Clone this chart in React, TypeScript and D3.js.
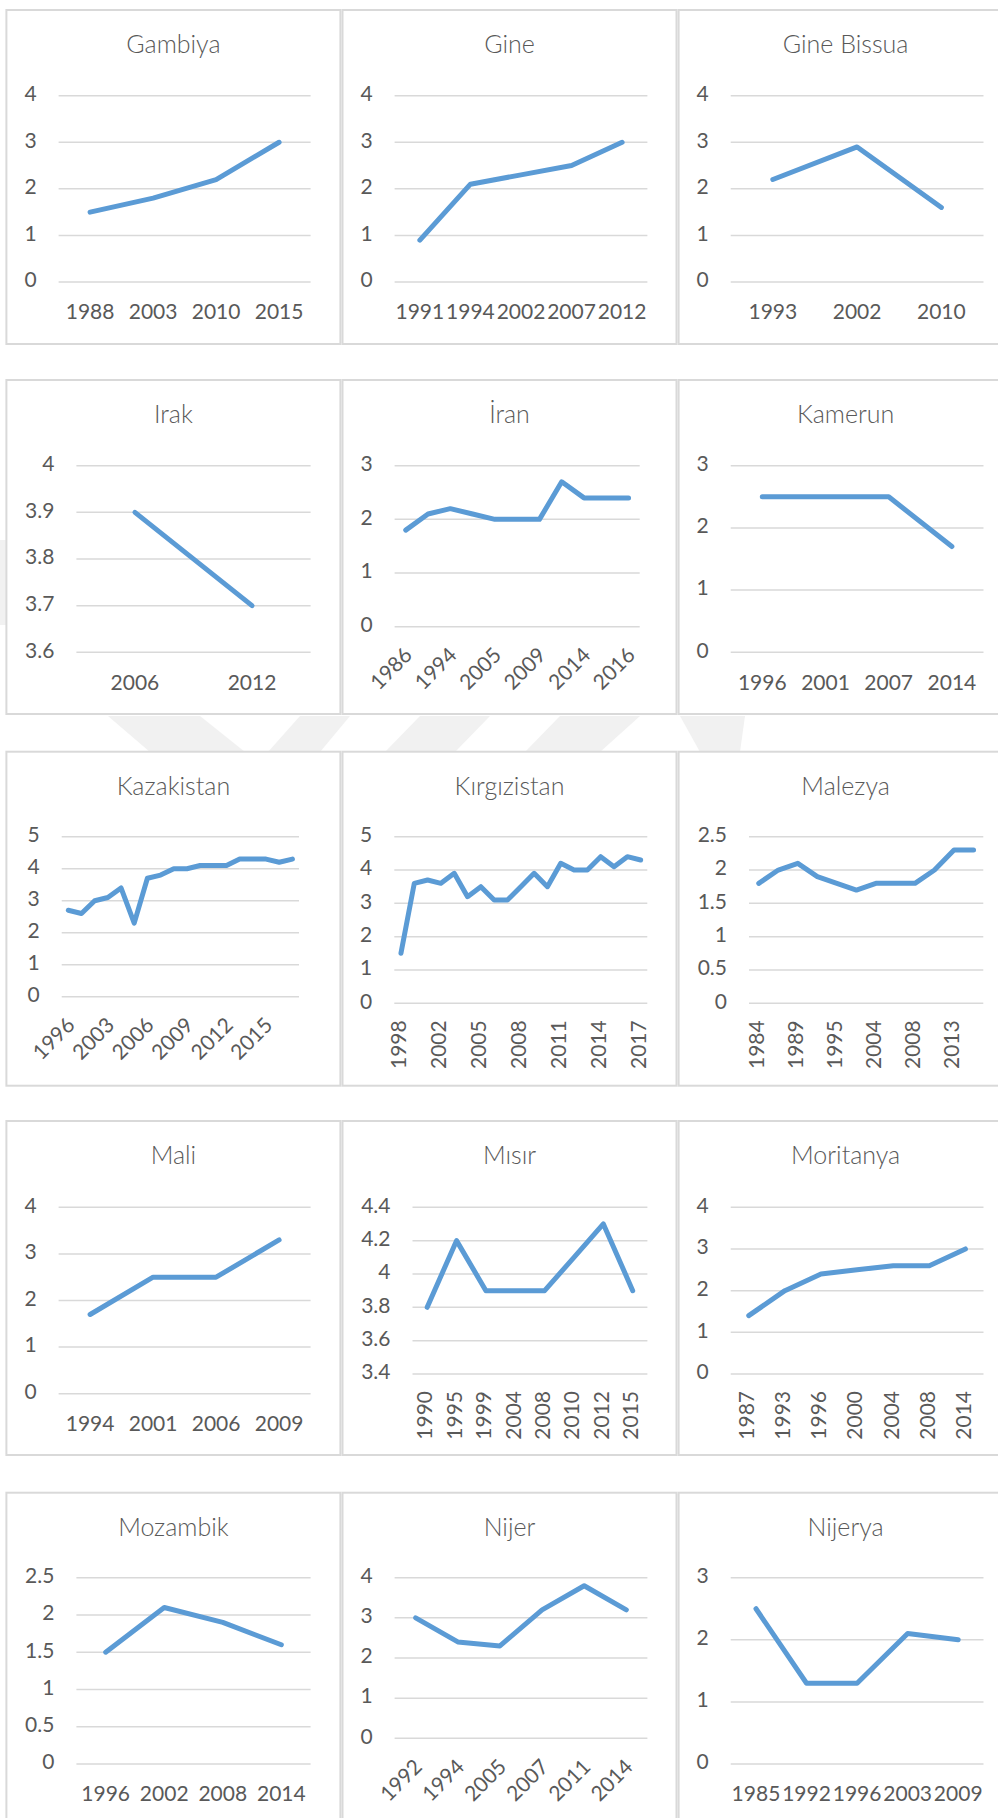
import React from 'react';
import * as d3 from 'd3';

// ---------- data ----------
const gambiyaYears = ['1988', '2003', '2010', '2015'];
const gambiyaValues = [1.5, 1.8, 2.2, 3.0];

const gineYears = ['1991', '1994', '2002', '2007', '2012'];
const gineValues = [0.9, 2.1, 2.3, 2.5, 3.0];

const gineBissuaYears = ['1993', '2002', '2010'];
const gineBissuaValues = [2.2, 2.9, 1.6];

const irakYears = ['2006', '2012'];
const irakValues = [3.9, 3.7];

const iranYears = ['1986', '1991', '1994', '2000', '2005', '2007', '2009', '2011', '2014', '2015', '2016'];
const iranValues = [1.8, 2.1, 2.2, 2.1, 2.0, 2.0, 2.0, 2.7, 2.4, 2.4, 2.4];

const kamerunYears = ['1996', '2001', '2007', '2014'];
const kamerunValues = [2.5, 2.5, 2.5, 1.7];

const kazakistanYears = ['1996', '1999', '2001', '2003', '2004', '2005', '2006', '2007', '2008', '2009', '2010', '2011', '2012', '2013', '2014', '2015', '2016', '2017'];
const kazakistanValues = [2.7, 2.6, 3.0, 3.1, 3.4, 2.3, 3.7, 3.8, 4.0, 4.0, 4.1, 4.1, 4.1, 4.3, 4.3, 4.3, 4.2, 4.3];

const kirgizistanYears = ['1998', '2000', '2001', '2002', '2003', '2004', '2005', '2006', '2007', '2008', '2009', '2010', '2011', '2012', '2013', '2014', '2015', '2016', '2017'];
const kirgizistanValues = [1.5, 3.6, 3.7, 3.6, 3.9, 3.2, 3.5, 3.1, 3.1, 3.5, 3.9, 3.5, 4.2, 4.0, 4.0, 4.4, 4.1, 4.4, 4.3];

const malezyaYears = ['1984', '1987', '1989', '1992', '1995', '1997', '2004', '2007', '2008', '2011', '2013', '2015'];
const malezyaValues = [1.8, 2.0, 2.1, 1.9, 1.8, 1.7, 1.8, 1.8, 1.8, 2.0, 2.3, 2.3];

const maliYears = ['1994', '2001', '2006', '2009'];
const maliValues = [1.7, 2.5, 2.5, 3.3];

const misirYears = ['1990', '1995', '1999', '2004', '2008', '2010', '2012', '2015'];
const misirValues = [3.8, 4.2, 3.9, 3.9, 3.9, 4.1, 4.3, 3.9];

const moritanyaYears = ['1987', '1993', '1996', '2000', '2004', '2008', '2014'];
const moritanyaValues = [1.4, 2.0, 2.4, 2.5, 2.6, 2.6, 3.0];

const mozambikYears = ['1996', '2002', '2008', '2014'];
const mozambikValues = [1.5, 2.1, 1.9, 1.6];

const nijerYears = ['1992', '1994', '2005', '2007', '2011', '2014'];
const nijerValues = [3.0, 2.4, 2.3, 3.2, 3.8, 3.2];

const nijeryaYears = ['1985', '1992', '1996', '2003', '2009'];
const nijeryaValues = [2.5, 1.3, 1.3, 2.1, 2.0];

// ---------- layout / styling ----------
const W = 998;
const H = 1818;
const colLeft = [6.4, 342.5, 678.6];
const rowTop = [10, 380, 751.7, 1121, 1492.7];
const PW = 334;
const PH = 334;
const TEXT = '#595959';
const GRID = '#D9D9D9';
const LINE = '#5B9BD5';
const FONT = 'Lato, "Open Sans", sans-serif';
const TICK_FS = 21;
const TITLE_FS = 25;

type Panel = {
  title: string;
  cats: string[];
  values: number[];
  yMin: number;
  yMax: number;
  yStep: number;
  every: number;
  rot: number;
  row: number;
  col: number;
  l: number; r: number; t: number; b: number;
};

const panels: Panel[] = [
  { title: 'Gambiya', cats: gambiyaYears, values: gambiyaValues, yMin: 0, yMax: 4, yStep: 1, every: 1, rot: 0, row: 0, col: 0, l: 52.2, r: 304.2, t: 85.7, b: 272 },
  { title: 'Gine', cats: gineYears, values: gineValues, yMin: 0, yMax: 4, yStep: 1, every: 1, rot: 0, row: 0, col: 1, l: 52.1, r: 304.9, t: 85.7, b: 272 },
  { title: 'Gine Bissua', cats: gineBissuaYears, values: gineBissuaValues, yMin: 0, yMax: 4, yStep: 1, every: 1, rot: 0, row: 0, col: 2, l: 52.1, r: 304.9, t: 85.7, b: 272 },
  { title: 'Irak', cats: irakYears, values: irakValues, yMin: 3.6, yMax: 4, yStep: 0.1, every: 1, rot: 0, row: 1, col: 0, l: 70, r: 304.2, t: 85.7, b: 272.3 },
  { title: 'İran', cats: iranYears, values: iranValues, yMin: 0, yMax: 3, yStep: 1, every: 2, rot: -45, row: 1, col: 1, l: 52.1, r: 297.2, t: 85.7, b: 246.7 },
  { title: 'Kamerun', cats: kamerunYears, values: kamerunValues, yMin: 0, yMax: 3, yStep: 1, every: 1, rot: 0, row: 1, col: 2, l: 52.1, r: 304.9, t: 85.7, b: 272.3 },
  { title: 'Kazakistan', cats: kazakistanYears, values: kazakistanValues, yMin: 0, yMax: 5, yStep: 1, every: 3, rot: -45, row: 2, col: 0, l: 55.3, r: 292.6, t: 85, b: 245 },
  { title: 'Kırgızistan', cats: kirgizistanYears, values: kirgizistanValues, yMin: 0, yMax: 5, yStep: 1, every: 3, rot: -90, row: 2, col: 1, l: 51.8, r: 304.8, t: 85, b: 251.6 },
  { title: 'Malezya', cats: malezyaYears, values: malezyaValues, yMin: 0, yMax: 2.5, yStep: 0.5, every: 2, rot: -90, row: 2, col: 2, l: 70.4, r: 304.7, t: 85, b: 251.6 },
  { title: 'Mali', cats: maliYears, values: maliValues, yMin: 0, yMax: 4, yStep: 1, every: 1, rot: 0, row: 3, col: 0, l: 52.2, r: 304.2, t: 86.3, b: 272.7 },
  { title: 'Mısır', cats: misirYears, values: misirValues, yMin: 3.4, yMax: 4.4, yStep: 0.2, every: 1, rot: -90, row: 3, col: 1, l: 70, r: 304.9, t: 86.3, b: 253 },
  { title: 'Moritanya', cats: moritanyaYears, values: moritanyaValues, yMin: 0, yMax: 4, yStep: 1, every: 1, rot: -90, row: 3, col: 2, l: 52.1, r: 304.9, t: 86.3, b: 253 },
  { title: 'Mozambik', cats: mozambikYears, values: mozambikValues, yMin: 0, yMax: 2.5, yStep: 0.5, every: 1, rot: 0, row: 4, col: 0, l: 70, r: 304.2, t: 85, b: 271.3 },
  { title: 'Nijer', cats: nijerYears, values: nijerValues, yMin: 0, yMax: 4, yStep: 1, every: 1, rot: -45, row: 4, col: 1, l: 52.1, r: 304.9, t: 85, b: 245.6 },
  { title: 'Nijerya', cats: nijeryaYears, values: nijeryaValues, yMin: 0, yMax: 3, yStep: 1, every: 1, rot: 0, row: 4, col: 2, l: 52.1, r: 304.9, t: 85, b: 271.3 },
];

const fmt = (v: number) => String(+v.toFixed(2));

function ChartPanel({ p }: { p: Panel }) {
  const px = colLeft[p.col];
  const py = rowTop[p.row];
  const x = d3.scalePoint<string>().domain(p.cats).range([p.l, p.r]).padding(0.5);
  const y = d3.scaleLinear().domain([p.yMin, p.yMax]).range([p.b, p.t]);
  const nT = Math.round((p.yMax - p.yMin) / p.yStep);
  const ticks = d3.range(nT + 1).map((i) => p.yMin + i * p.yStep);
  const line = d3
    .line<number>()
    .x((_, i) => x(p.cats[i]) as number)
    .y((d) => y(d));

  return (
    <g transform={`translate(${px},${py})`}>
      <rect x={0} y={0} width={PW} height={PH} fill="#fff" stroke={GRID} strokeWidth={2} />
      <text
        x={PW / 2}
        y={37}
        textAnchor="middle"
        dominantBaseline="middle"
        fontSize={TITLE_FS}
        fontWeight={300}
        fill={TEXT}
      >
        {p.title}
      </text>
      {ticks.map((t) => (
        <g key={t}>
          <line x1={p.l} x2={p.r} y1={y(t)} y2={y(t)} stroke={GRID} strokeWidth={1.5} />
          <text
            x={p.l - 22}
            y={y(t)}
            textAnchor="end"
            dominantBaseline="middle"
            fontSize={TICK_FS}
            fill={TEXT}
          >
            {fmt(t)}
          </text>
        </g>
      ))}
      <path
        d={line(p.values) || ''}
        fill="none"
        stroke={LINE}
        strokeWidth={5}
        strokeLinejoin="round"
        strokeLinecap="round"
      />
      {p.cats.map((c, i) => {
        if (i % p.every !== 0) return null;
        const cx = x(c) as number;
        if (p.rot === 0) {
          return (
            <text key={c} x={cx} y={p.b + 32} textAnchor="middle" dominantBaseline="middle" fontSize={TICK_FS} fill={TEXT}>
              {c}
            </text>
          );
        }
        if (p.rot === -45) {
          return (
            <text
              key={c}
              transform={`translate(${cx + 4},${p.b + 26}) rotate(-45)`}
              textAnchor="end"
              dominantBaseline="middle"
              fontSize={TICK_FS}
              fill={TEXT}
            >
              {c}
            </text>
          );
        }
        return (
          <text
            key={c}
            transform={`translate(${cx},${p.b + 17}) rotate(-90)`}
            textAnchor="end"
            dominantBaseline="middle"
            fontSize={TICK_FS}
            fill={TEXT}
          >
            {c}
          </text>
        );
      })}
    </g>
  );
}

const watermark: [number, number][][] = [
  [[0, 540], [6, 540], [6, 625], [0, 625]],
  [[108, 716], [200, 716], [245, 752], [150, 752]],
  [[300, 716], [350, 716], [320, 752], [268, 752]],
  [[420, 716], [490, 716], [455, 752], [385, 752]],
  [[560, 716], [640, 716], [600, 752], [525, 752]],
  [[680, 716], [745, 716], [740, 752], [700, 752]],
];

export default function App() {
  return (
    <svg
      width={W}
      height={H}
      viewBox={`0 0 ${W} ${H}`}
      style={{ position: 'absolute', left: 0, top: 0, background: '#fff', fontFamily: FONT }}
    >
      <rect x={0} y={0} width={W} height={H} fill="#fff" />
      {watermark.map((pts, i) => (
        <polygon key={i} points={pts.map((q) => q.join(',')).join(' ')} fill="#f1f1f1" />
      ))}
      {panels.map((p) => (
        <ChartPanel key={p.title} p={p} />
      ))}
    </svg>
  );
}
